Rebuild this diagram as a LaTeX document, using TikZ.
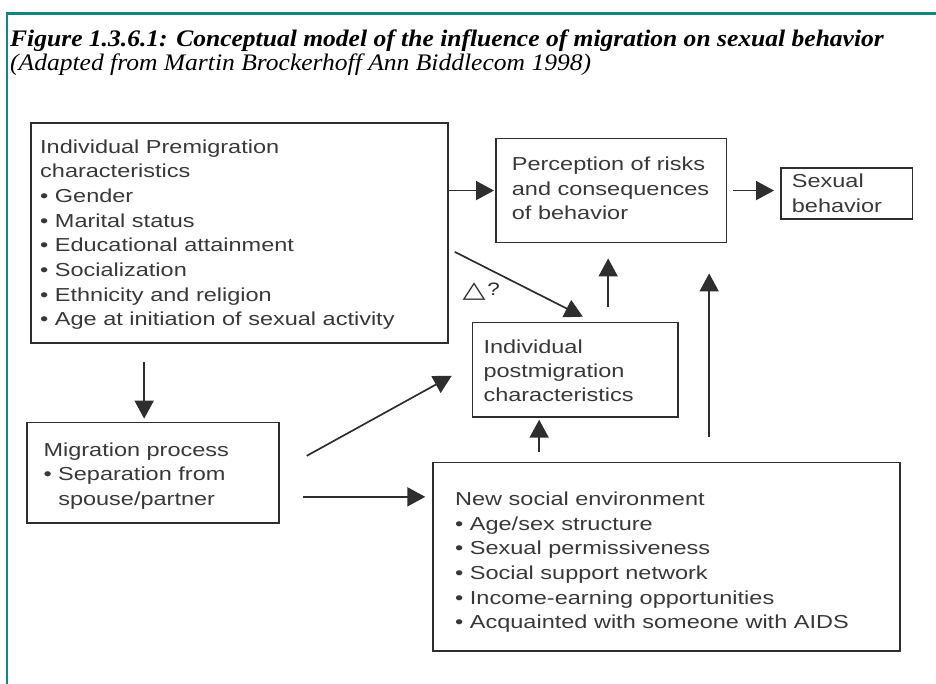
\documentclass[tikz,border=0pt]{standalone}
\usepackage{fontspec}
\setmainfont{Liberation Sans}
\newfontfamily\diagfont[FakeStretch=1.25]{Liberation Sans}
\newfontfamily\symfont[FakeStretch=1.3]{DejaVu Sans}
\newfontfamily\titlefont[FakeStretch=1.078]{Liberation Serif}
\usetikzlibrary{arrows.meta}
\definecolor{frameteal}{HTML}{138585}
\definecolor{ink}{HTML}{2E2E2E}
\definecolor{txt}{HTML}{383838}
\tikzset{
  box/.style={draw=ink, line width=1.7pt, anchor=north west, inner sep=0pt},
  txtblock/.style={anchor=north west, inner sep=0pt, align=left, text=txt,
    font=\diagfont\fontsize{18.8}{24.7}\selectfont},
  arr/.style={draw=ink, line width=1.7pt, -{Triangle[length=18pt,width=19pt]}},
  titlestyle/.style={anchor=base west, inner sep=0pt, text=black}
}
\begin{document}
\begin{tikzpicture}[x=1pt,y=-1pt]
\useasboundingbox (0,0) rectangle (936,684);
% frame
\draw[frameteal, line width=2.5pt] (937,13.3) -- (7,13.3) -- (7,685);
% title
\node[titlestyle, font=\titlefont\bfseries\itshape\fontsize{23.7}{26}\selectfont] (title) at (10,47)
  {Figure 1.3.6.1: Conceptual model of the influence of migration on sexual behavior};
\node[titlestyle, font=\titlefont\itshape\fontsize{23.7}{26}\selectfont] (subtitle) at (10,71)
  {(Adapted from Martin Brockerhoff Ann Biddlecom 1998)};
% boxes
\node[box, minimum width=417pt, minimum height=220pt] (pre) at (30,122) {};
\node[box, minimum width=230.7pt, minimum height=104pt] (per) at (495,137.7) {};
\node[box, minimum width=131.7pt, minimum height=51pt] (sex) at (780,167.3) {};
\node[box, minimum width=205.6pt, minimum height=94.3pt] (post) at (471.7,321.7) {};
\node[box, minimum width=252.3pt, minimum height=100.6pt] (mig) at (26,421.7) {};
\node[box, minimum width=466.7pt, minimum height=188.3pt] (nse) at (432.3,461.7) {};
% texts
\node[txtblock] (pretext) at (40,139.2) {Individual Premigration\\characteristics\\• Gender\\• Marital status\\• Educational attainment\\• Socialization\\• Ethnicity and religion\\• Age at initiation of sexual activity};
\node[txtblock] (pertext) at (511.7,156.5) {Perception of risks\\and consequences\\of behavior};
\node[txtblock] (sextext) at (791.7,173.9) {Sexual\\behavior};
\node[txtblock, font=\diagfont\fontsize{18.8}{24}\selectfont] (posttext) at (483.3,339.9) {Individual\\postmigration\\characteristics};
\node[txtblock, font=\diagfont\fontsize{18.8}{24.5}\selectfont] (migtext) at (43.3,442.5) {Migration process\\• Separation from\\\phantom{• }spouse/partner};
\node[txtblock] (nsetext) at (455,491.5) {New social environment\\• Age/sex structure\\• Sexual permissiveness\\• Social support network\\• Income-earning opportunities\\• Acquainted with someone with AIDS};
% delta label
\node[inner sep=0pt, text=ink, font=\symfont\fontsize{23}{23}\selectfont] (delta) at (474,292) {△};
\node[inner sep=0pt, text=ink, font=\diagfont\fontsize{18}{18}\selectfont] (qmark) at (493.5,289) {?};
% connectors
\draw[arr, shorten >=1pt] (pre.east |- per.west) -- (per.west);
\draw[arr, shorten <=6pt, shorten >=6pt] (per.east) -- (sex.west |- per.east);
\draw[arr] ([shift={(6,19)}]pre.east) -- ([shift={(7.5,-5)}]post.north);
\draw[arr, shorten <=15pt, shorten >=15pt] ([xshift=32.8pt]post.north) -- ([xshift=32.8pt]post.north |- per.south);
\draw[arr, shorten <=25pt, shorten >=30pt] ([xshift=42.65pt]nse.north) -- ([xshift=42.65pt]nse.north |- per.south);
\draw[arr, shorten <=10pt, shorten >=2pt] ([xshift=-127.35pt]nse.north) -- ([xshift=-127.35pt]nse.north |- post.south);
\draw[arr, shorten <=18pt, shorten >=3pt] ([xshift=-95.2pt]pre.south) -- ([xshift=-95.2pt]pre.south |- mig.north);
\draw[arr] ([shift={(26.7,-17)}]mig.east) -- ([shift={(-20,6.15)}]post.west);
\draw[arr, shorten >=7pt] ([shift={(23.4,24)}]mig.east) -- ([shift={(0,24)}]mig.east -| nse.west);
\end{tikzpicture}
\end{document}
